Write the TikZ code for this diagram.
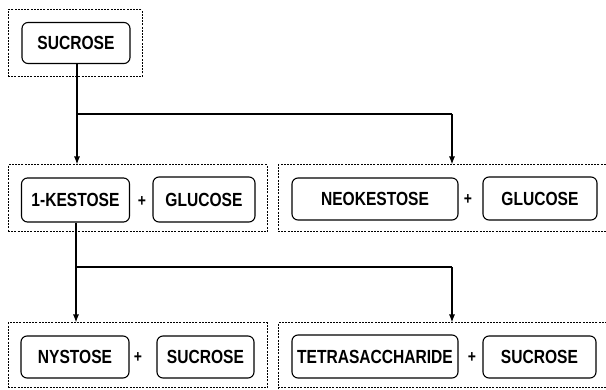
\documentclass[tikz,border=0pt]{standalone}
\usepackage{fontspec}
\newfontfamily\labelfont[FakeStretch=0.82]{Liberation Sans}
\usepackage{tikz}
\usetikzlibrary{arrows.meta}

\tikzset{
  sugar/.style={draw,line width=1.1pt,rounded corners=6pt,minimum height=42pt,
    inner sep=0pt,font=\labelfont\bfseries\fontsize{19}{19}\selectfont},
  group/.style={draw,line width=1pt,dash pattern=on 2pt off 1.2pt,
    inner sep=0pt},
  plus/.style={inner sep=0pt,font=\labelfont\bfseries\fontsize{17}{17}\selectfont},
  flow/.style={line width=1.2pt,-{Latex[length=8pt,width=6pt]}}
}

\begin{document}
\begin{tikzpicture}[x=1pt,y=-1pt]
    \useasboundingbox (0,0) rectangle (606,390);
    % dotted groups
    \node[group,minimum width=134pt,minimum height=67pt] (g0) at (75,43.5) {};
    \node[group,minimum width=259pt,minimum height=67pt] (g1) at (137.5,198.5) {};
    \node[group,minimum width=340pt,minimum height=67pt] (g2) at (448,198.5) {};
    \node[group,minimum width=259pt,minimum height=65pt] (g3) at (137.5,355.5) {};
    \node[group,minimum width=340pt,minimum height=65pt] (g4) at (448,355.5) {};
    % substrate
    \node[sugar,minimum width=108pt,minimum height=41pt] (suc0) at (76,43) {SUCROSE};
    % first products
    \node[sugar,minimum width=108pt,minimum height=44pt] (kes) at (75.5,200) {1-KESTOSE};
    \node[plus] (p1) at (142,202) {+};
    \node[sugar,minimum width=102pt,minimum height=45pt] (glu1) at (204,199.5) {GLUCOSE};
    \node[sugar,minimum width=166pt] (neo) at (375,199) {NEOKESTOSE};
    \node[plus] (p2) at (468,200) {+};
    \node[sugar,minimum width=114pt,minimum height=43pt] (glu2) at (540,198.5) {GLUCOSE};
    % second products
    \node[sugar,minimum width=108pt] (nys) at (75,357) {NYSTOSE};
    \node[plus] (p3) at (138,358) {+};
    \node[sugar,minimum width=97pt] (suc1) at (205.5,357) {SUCROSE};
    \node[sugar,minimum width=166pt,minimum height=43pt] (tet) at (375,356.5) {TETRASACCHARIDE};
    \node[plus] (p4) at (472,358) {+};
    \node[sugar,minimum width=113pt] (suc2) at (539.5,357) {SUCROSE};
    % connectors
    \coordinate (j1) at (77,114);
    \coordinate (k1) at (452,114);
    \coordinate (j2) at (76,267);
    \coordinate (k2) at (452,267);
    \draw[flow] (suc0.south -| j1) -- (j1 |- g1.north);
    \draw[line width=1.2pt] (j1) -- (k1);
    \draw[flow] (k1) -- (k1 |- g2.north);
    \draw[flow] (kes.south -| j2) -- (j2 |- g3.north);
    \draw[line width=1.2pt] (j2) -- (k2);
    \draw[flow] (k2) -- (k2 |- g4.north);
  \end{tikzpicture}
\end{document}
